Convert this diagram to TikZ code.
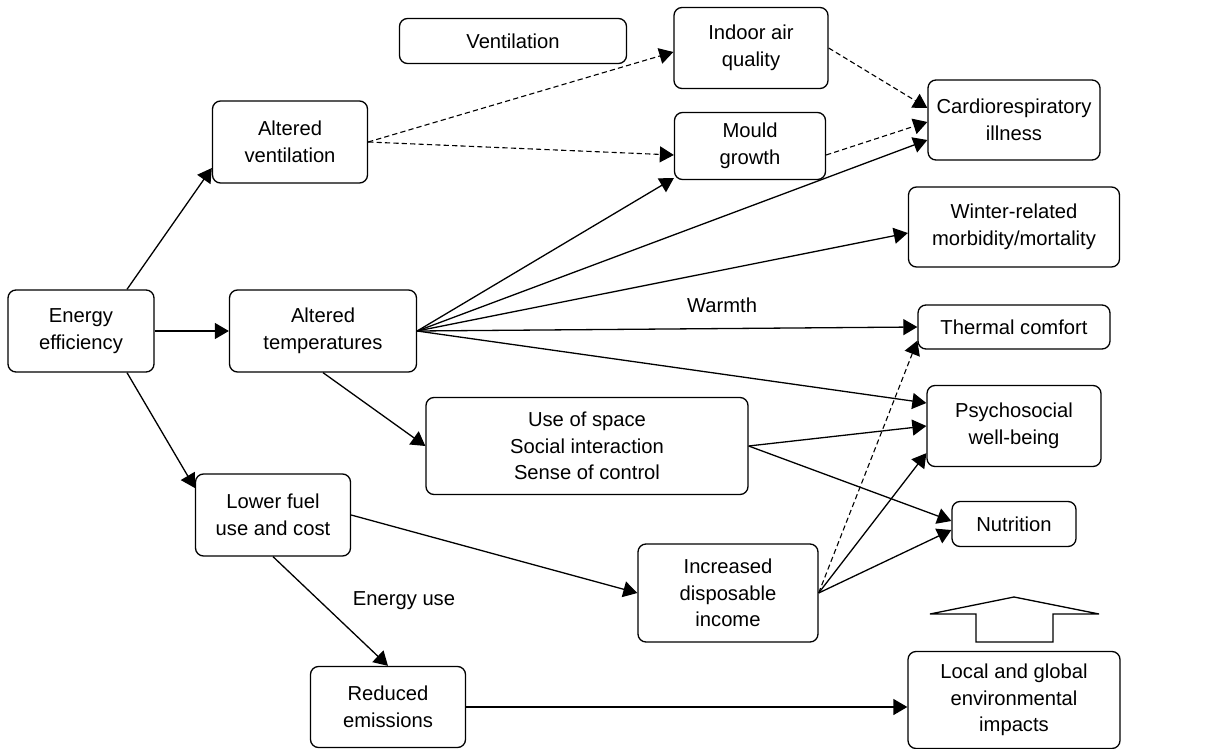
\documentclass[tikz,border=0pt]{standalone}
\usepackage{fontspec}
\setmainfont{Liberation Sans}
\usetikzlibrary{arrows.meta,calc}

\begin{document}
\begin{tikzpicture}[x=0.5pt, y=-0.5pt, line width=0.65pt,
                box/.style={draw, rounded corners=4pt, align=center, inner sep=1pt,
                            font=\fontsize{10.1}{13.3}\selectfont},
                link/.style={-{Triangle[length=7pt,width=8pt]}},
                dlink/.style={link, line width=0.55pt, dash pattern=on 2.6pt off 1.6pt}]

            \useasboundingbox (0,0) rectangle (1226,749);

            % Nodes
            \node[box, minimum width=113.5pt, minimum height=22.5pt] (vent) at (513,41) {Ventilation};
            \node[box, minimum width=77pt, minimum height=40.5pt] (iaq) at (751,48) {Indoor air\\quality};
            \node[box, minimum width=77.5pt, minimum height=41pt] (av) at (290,142) {Altered\\ventilation};
            \node[box, minimum width=75.5pt, minimum height=33.5pt] (mg) at (750,146) {Mould\\growth};
            \node[box, minimum width=86pt, minimum height=40pt] (ci) at (1014,120) {Cardiorespiratory\\illness};
            \node[box, minimum width=105.5pt, minimum height=40pt] (wr) at (1014,227) {Winter-related\\morbidity/mortality};
            \node[box, minimum width=73pt, minimum height=41pt] (ee) at (81,331) {Energy\\efficiency};
            \node[box, minimum width=93.5pt, minimum height=41pt] (at) at (323,331) {Altered\\temperatures};
            \node[box, minimum width=96pt, minimum height=22pt] (tc) at (1014,327) {Thermal comfort};
            \node[box, minimum width=161pt, minimum height=48.5pt] (uos) at (587,446) {Use of space\\Social interaction\\Sense of control};
            \node[box, minimum width=87pt, minimum height=40.5pt] (psy) at (1014,426) {Psychosocial\\well-being};
            \node[box, minimum width=62pt, minimum height=22.5pt] (nut) at (1014,524) {Nutrition};
            \node[box, minimum width=77.5pt, minimum height=41pt] (lfc) at (273,515) {Lower fuel\\use and cost};
            \node[box, minimum width=90pt, minimum height=49pt] (idi) at (728,593) {Increased\\disposable\\income};
            \node[box, minimum width=77.5pt, minimum height=40.5pt] (re) at (388,707) {Reduced\\emissions};
            \node[box, minimum width=106pt, minimum height=48.5pt] (lg) at (1014,700) {Local and global\\environmental\\impacts};

            % Labels
            \node[font=\fontsize{10.1}{13.3}\selectfont] (warmth) at (722,305) {Warmth};
            \node[font=\fontsize{10.1}{13.3}\selectfont] (euse) at (404,601) {Energy use};

            % Edges
            \path[link]
            ($(ee.north)+(46,0)$) edge ($(av.west)+(0,26)$)
            (ee.east) edge (at.west)
            ($(ee.south)+(46,0)$) edge ($(lfc.west)+(0,-27)$)
            (at.east) edge ($(mg.south west)+(0,-2)$)
            (at.east) edge ($(ci.west)+(0,20)$)
            (at.east) edge ($(wr.west)+(0,6)$)
            (at.east) edge (tc.west)
            (at.east) edge ($(psy.west)+(0,-23)$)
            (at.south) edge (uos.west)
            (uos.east) edge (psy.west)
            (uos.east) edge ($(nut.west)+(0,-3)$)
            (lfc.east) edge (idi.west)
            (lfc.south) edge (re.north)
            (re.east) edge (re.east -| lg.west)
            (idi.east) edge ($(psy.south west)+(0,-14)$)
            (idi.east) edge ($(nut.west)+(0,6)$);

            \path[dlink]
            (av.east) edge ($(iaq.west)+(0,4)$)
            (av.east) edge ($(mg.west)+(0,9)$)
            (iaq.east) edge ($(ci.west)+(0,-12)$)
            ($(mg.east)+(0,9)$) edge ($(ci.west)+(0,2)$)
            (idi.east) edge ($(tc.south west)+(0,-9)$);

            % Up arrow above impacts
            \draw (930,614) -- (1014,597) -- (1099,614) -- (1053,614) -- (1053,642)
                  -- (976,642) -- (976,614) -- cycle;

        \end{tikzpicture}
\end{document}
